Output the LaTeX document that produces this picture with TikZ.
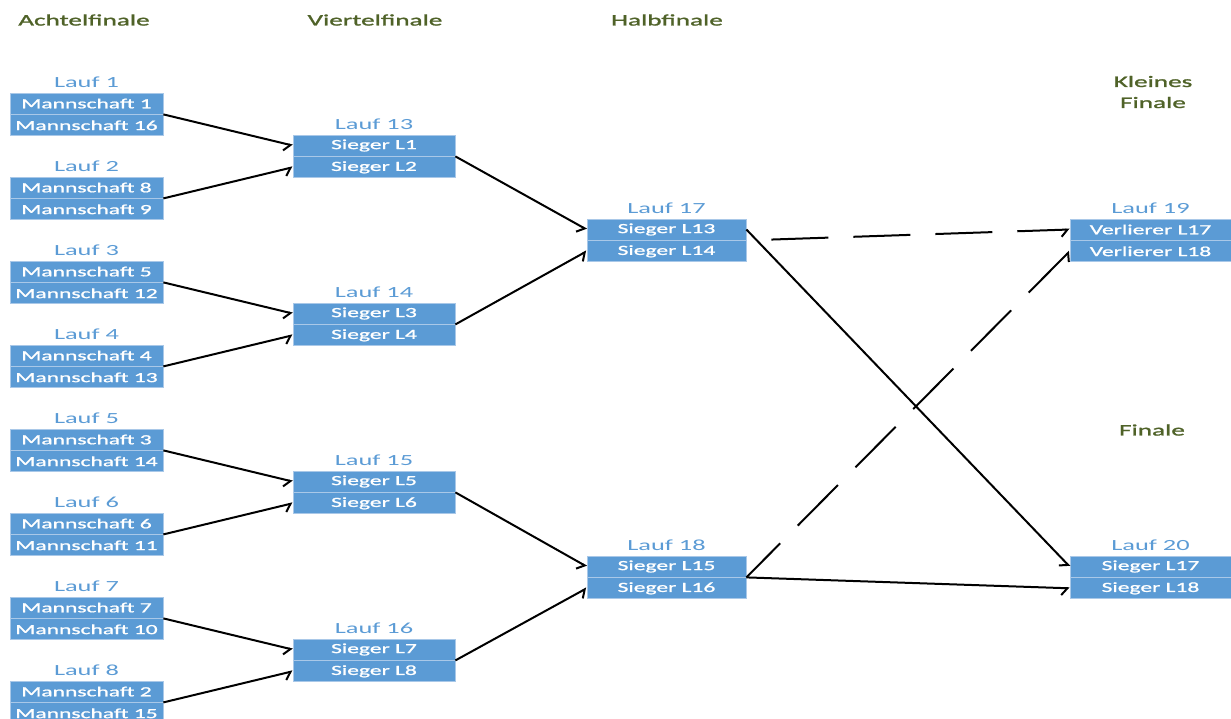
\documentclass[tikz,border=0pt]{standalone}
\usepackage{fontspec}
\setmainfont{Carlito}[FakeStretch=1.7]
\newfontfamily\boxfont{Carlito}[FakeStretch=1.68, FakeBold=1.2]
\newfontfamily\headfont{Carlito}[FakeStretch=1.7, FakeBold=1.4]
\usetikzlibrary{positioning,arrows.meta}

\definecolor{boxblue}{HTML}{5B9BD5}
\definecolor{boxline}{HTML}{A9C8E8}
\definecolor{laufblue}{HTML}{5B9BD5}
\definecolor{stagegreen}{HTML}{4F6228}

\tikzset{
  team/.style={rectangle, fill=boxblue, draw=boxline, line width=0.8pt,
    text=white, inner sep=0pt, minimum height=21pt,
    font=\boxfont\fontsize{14}{16}\selectfont},
  lauf/.style={text=laufblue, inner sep=0pt, font=\fontsize{15.5}{17}\selectfont},
  stage/.style={text=stagegreen, inner sep=0pt, align=center,
    font=\headfont\fontsize{16}{21}\selectfont},
  link/.style={line width=2pt, -{Straight Barb[right,length=6pt,width=14pt]}},
  loser/.style={dash pattern=on 57pt off 25pt, dash phase=57pt}
}

\begin{document}
\begin{tikzpicture}[x=1pt,y=-1pt]
    \useasboundingbox (0,0) rectangle (1231,719);

    % rounds
    \node[stage] (h1) at (84,20) {Achtelfinale};
    \node[stage] (h2) at (375,20) {Viertelfinale};
    \node[stage] (h3) at (667,20) {Halbfinale};
    \node[stage] (h4) at (1153,92) {Kleines\\Finale};
    \node[stage] (h5) at (1152,430) {Finale};

    % Achtelfinale
    \foreach \i/\x/\y in {1/1/16, 2/8/9, 3/5/12, 4/4/13, 5/3/14, 6/6/11, 7/7/10, 8/2/15} {
        \node[team, minimum width=153pt] (a\i) at (86.5,{103.5+84*(\i-1)}) {Mannschaft \x};
        \node[team, minimum width=153pt, below=0pt of a\i] (b\i) {Mannschaft \y};
        \node[lauf, above=5pt of a\i] (n\i) {Lauf \i};
    }

    % Viertelfinale
    \foreach \i/\x/\y [count=\k from 0] in {13/1/2, 14/3/4, 15/5/6, 16/7/8} {
        \node[team, minimum width=162pt] (a\i) at (374,{145.5+168*\k}) {Sieger L\x};
        \node[team, minimum width=162pt, below=0pt of a\i] (b\i) {Sieger L\y};
        \node[lauf, above=5pt of a\i] (n\i) {Lauf \i};
    }

    % Halbfinale
    \node[team, minimum width=159pt] (a17) at (666.5,229.5) {Sieger L13};
    \node[team, minimum width=159pt, below=0pt of a17] (b17) {Sieger L14};
    \node[lauf, above=5pt of a17] (n17) {Lauf 17};
    \node[team, minimum width=159pt] (a18) at (666.5,566.5) {Sieger L15};
    \node[team, minimum width=159pt, below=0pt of a18] (b18) {Sieger L16};
    \node[lauf, above=5pt of a18] (n18) {Lauf 18};

    % Finals
    \node[team, minimum width=161pt] (a19) at (1150.5,229.5) {Verlierer L17};
    \node[team, minimum width=161pt, below=0pt of a19] (b19) {Verlierer L18};
    \node[lauf, above=5pt of a19] (n19) {Lauf 19};
    \node[team, minimum width=161pt] (a20) at (1150.5,566.5) {Sieger L17};
    \node[team, minimum width=161pt, below=0pt of a20] (b20) {Sieger L18};
    \node[lauf, above=5pt of a20] (n20) {Lauf 20};

    % winners go on
    \foreach \u/\l/\j in {1/2/13, 3/4/14, 5/6/15, 7/8/16, 13/14/17, 15/16/18} {
        \draw[link] (a\u.south east) -- (a\j.west);
        \draw[link] (a\l.south east) -- (b\j.west);
    }
    \draw[link] (a17.east) -- (a20.west);
    \draw[link] (a18.south east) -- (b20.west);
    % losers play for third place
    \draw[link, loser] (a17.south east) -- (a19.west);
    \draw[link, loser, dash phase=9pt] (a18.south east) -- (b19.west);
\end{tikzpicture}
\end{document}
